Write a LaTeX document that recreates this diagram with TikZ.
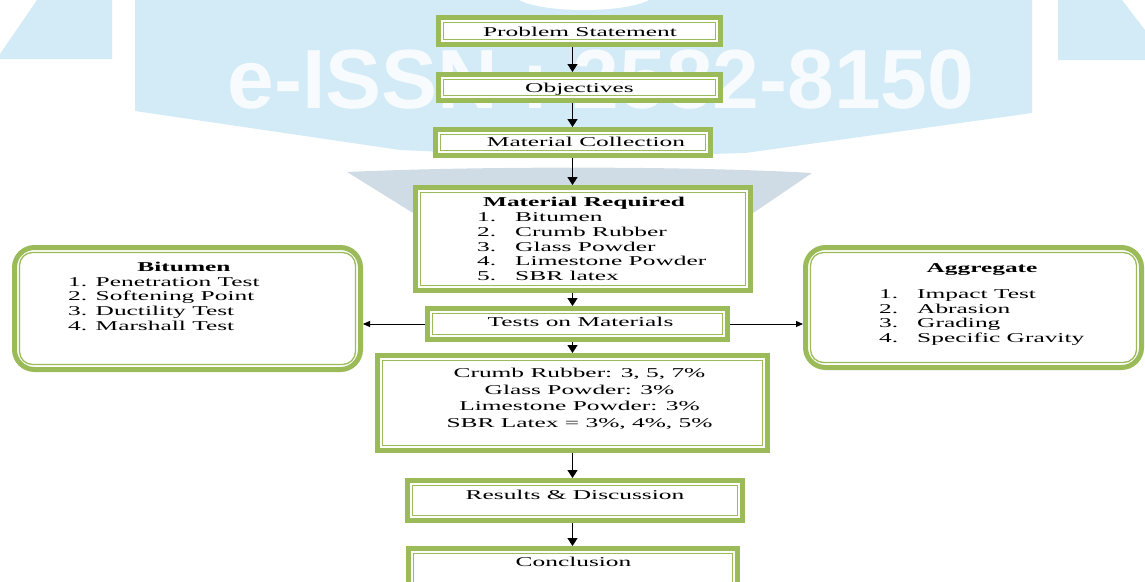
\documentclass[tikz,border=0pt]{standalone}
\usepackage{fontspec}
\setmainfont{Liberation Serif}[FakeStretch=1.88]
\newfontfamily\wmfont{Liberation Sans}
\usetikzlibrary{arrows.meta,calc}
\definecolor{boxgreen}{RGB}{155,187,89}
\definecolor{wmblue}{RGB}{210,235,246}
\definecolor{wmgray}{RGB}{208,220,229}
\definecolor{wmtext}{RGB}{247,251,253}
\begin{document}
\begin{tikzpicture}[x=1pt,y=-1pt,
  box/.style={draw=boxgreen, line width=5pt, fill=white, rectangle, inner sep=0pt},
  panel/.style={box, rounded corners=20pt},
  innerline/.style={draw=boxgreen, line width=1.3pt},
  arr/.style={-{Triangle[length=8pt,width=10pt]}, line width=1.5pt},
  harr/.style={-{Triangle[length=7pt,width=6pt]}, line width=0.9pt},
  txt/.style={inner sep=0pt, anchor=base, font=\fontsize{13.5}{14.7}\selectfont},
  btxt/.style={txt, font=\fontsize{13.5}{14.7}\selectfont\bfseries},
  list/.style={inner sep=0pt, anchor=base west, font=\fontsize{13.5}{14.7}\selectfont},
  wm/.style={inner sep=0pt, anchor=base, text=wmtext, font=\wmfont\bfseries\fontsize{84}{90}\selectfont}
]
\useasboundingbox (0,0) rectangle (1145,581);
\clip (0,0) rectangle (1145,581);
% watermark
\fill[wmblue] (37,0) -- (112,0) -- (112,59) -- (0,59) -- (0,54) -- cycle;
\fill[wmblue] (1058,0) -- (1122,0) -- (1145,30) -- (1145,60) -- (1058,60) -- cycle;
\fill[wmblue] (135,0) -- (1032,0) -- (1032,113) -- (745,153) -- (572,158) -- (400,150) -- (135,111) -- cycle;
\fill[white] (584,-6) ellipse (70 and 16);
\fill[wmgray] (347,172) .. controls (480,166) and (690,166) .. (812,173) -- (684,260) -- (489,260) -- cycle;
\node[wm] (wm) at (601,108) {e-ISSN : 2582-8150};
% boxes
\node[box, minimum width=282pt, minimum height=27pt] (b1) at (579.5,31) {};
\node[box, minimum width=282pt, minimum height=26pt] (b2) at (579.5,87.5) {};
\node[box, minimum width=275pt, minimum height=26pt] (b3) at (573,142.5) {};
\node[box, minimum width=335pt, minimum height=103pt] (b4) at (583,239) {};
\node[box, minimum width=300pt, minimum height=31pt] (b5) at (577.5,324) {};
\node[panel, minimum width=346pt, minimum height=122pt] (L) at (187.5,308.5) {};
\node[panel, minimum width=336pt, minimum height=120pt] (R) at (973.5,307.5) {};
\node[box, minimum width=390pt, minimum height=95pt] (b6) at (572.5,403) {};
\node[box, minimum width=335pt, minimum height=40pt] (b7) at (575,500.5) {};
\node[box, minimum width=329pt, minimum height=47pt] (b8) at (573,572) {};
\foreach \n in {b1,b2,b3,b4,b5,b6,b7,b8}
  \draw[innerline] ([shift={(7.5,7.5)}]\n.north west) rectangle ([shift={(-7.5,-7.5)}]\n.south east);
\foreach \n in {L,R}
  \draw[innerline, rounded corners=13pt] ([shift={(7.5,7.5)}]\n.north west) rectangle ([shift={(-7.5,-7.5)}]\n.south east);
% texts
\node[txt] (t1) at (580,36) {Problem Statement};
\node[txt] (t2) at (579.5,92.3) {Objectives};
\node[txt] (t3) at (586,146.7) {Material Collection};
\node[btxt] (t4h) at (584,206) {Material Required};
\node[list] (t4l) at (477,221.7) {\begin{tabular}[t]{@{}l@{\hspace{19pt}}l@{}}1.&Bitumen\\2.&Crumb Rubber\\3.&Glass Powder\\4.&Limestone Powder\\5.&SBR latex\end{tabular}};
\node[txt] (t5) at (580.5,326) {Tests on Materials};
\node[btxt] (tLh) at (184,271.7) {Bitumen};
\node[list] (tLl) at (68,286) {\begin{tabular}[t]{@{}l@{}}1. Penetration Test\\2. Softening Point\\3. Ductility Test\\4. Marshall Test\end{tabular}};
\node[btxt] (tRh) at (982,272.3) {Aggregate};
\node[list] (tRl) at (879,298.3) {\begin{tabular}[t]{@{}l@{\hspace{19pt}}l@{}}1.&Impact Test\\2.&Abrasion\\3.&Grading\\4.&Specific Gravity\end{tabular}};
\node[txt, font=\fontsize{13.5}{16.7}\selectfont] (t6) at (579.5,377.3) {\begin{tabular}[t]{@{}c@{}}Crumb Rubber: 3, 5, 7\%\\Glass Powder: 3\%\\Limestone Powder: 3\%\\SBR Latex = 3\%, 4\%, 5\%\end{tabular}};
\node[txt] (t7) at (575,499) {Results \& Discussion};
\node[txt] (t8) at (573.5,566.7) {Conclusion};
% arrows
\coordinate (ax) at (572.5,0);
\draw[arr] (b1.south -| ax) -- (b2.north -| ax);
\draw[arr] (b2.south -| ax) -- (b3.north -| ax);
\draw[arr] (b3.south -| ax) -- (b4.north -| ax);
\draw[arr] (b4.south -| ax) -- (b5.north -| ax);
\draw[arr] (b5.south -| ax) -- (b6.north -| ax);
\draw[arr] (b6.south -| ax) -- (b7.north -| ax);
\draw[arr] (b7.south -| ax) -- (b8.north -| ax);
\draw[harr] (b5.west) -- (L.east |- b5.west);
\draw[harr] (b5.east) -- (R.west |- b5.east);
\end{tikzpicture}
\end{document}
